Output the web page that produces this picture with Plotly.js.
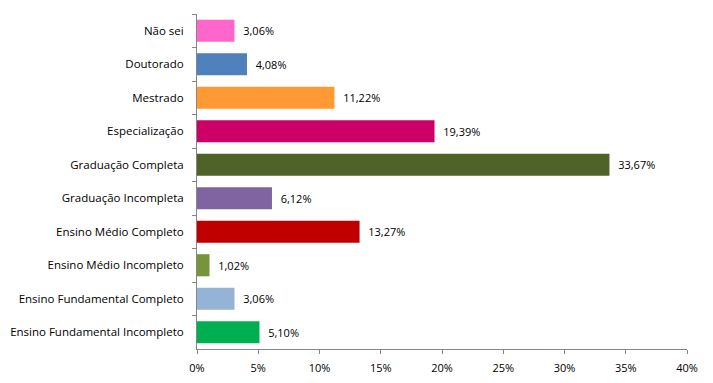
<!DOCTYPE html>
<html><head><meta charset="utf-8">
<script src="https://cdn.plot.ly/plotly-3.0.1.min.js"></script>
<style>html,body{margin:0;padding:0;background:#fff;}</style>
</head><body>
<div id="chart" style="width:713px;height:383px;"></div>
<script>
const categories = ["Não sei","Doutorado","Mestrado","Especialização","Graduação Completa","Graduação Incompleta","Ensino Médio Completo","Ensino Médio Incompleto","Ensino Fundamental Completo","Ensino Fundamental Incompleto"];
const values = [3.06,4.08,11.22,19.39,33.67,6.12,13.27,1.02,3.06,5.10];
const colors = ["#FF66CC","#4F81BD","#FF9933","#CC0066","#4F6228","#8064A2","#C00000","#77933C","#95B3D7","#00B050"];
const xTicks = [0,5,10,15,20,25,30,35,40];

const font = {family:"Open Sans, Liberation Sans, sans-serif", size:11, color:"#000"};
const yfont = {family:"Open Sans, Liberation Sans, sans-serif", size:11.5, color:"#000"};
Plotly.newPlot("chart", [{
  type:"bar", orientation:"h",
  y: categories, x: values,
  marker:{color: colors, line:{width:0}},
  width: 0.66,
  texttemplate:"\u00a0\u00a0%{x:.2f}%", textposition:"outside", cliponaxis:false,
  textfont: font, hoverinfo:"none"
}], {
  width:713, height:383,
  margin:{l:197, r:26, t:14, b:34, pad:0},
  separators:",.",
  paper_bgcolor:"#fff", plot_bgcolor:"#fff",
  font: font,
  showlegend:false,
  xaxis:{range:[0,40], tickvals:xTicks, ticktext:xTicks.map(v=>v+"%"), showgrid:false, zeroline:false,
    showline:true, linecolor:"#868686", linewidth:1, ticks:"outside", ticklen:4, tickcolor:"#868686", tickfont:font, ticklabelstandoff:5},
  yaxis:{type:"category", categoryorder:"array", categoryarray:categories, autorange:"reversed",
    showgrid:false, zeroline:false, showline:true, linecolor:"#868686", linewidth:1,
    ticks:"outside", ticklen:4, tickcolor:"#868686", tickson:"boundaries", tickfont:yfont, ticklabelstandoff:10}
}, {displayModeBar:false, staticPlot:true});
</script>
</body></html>
